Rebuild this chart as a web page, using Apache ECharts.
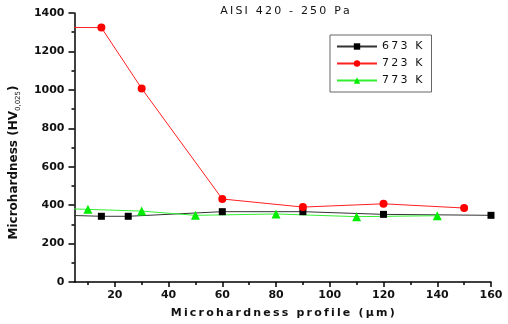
<!DOCTYPE html>
<html>
<head>
<meta charset="utf-8">
<script src="https://cdn.jsdelivr.net/npm/echarts@6/dist/echarts.min.js"></script>
<style>
  html, body { margin: 0; padding: 0; background: #fff; }
  #chart { width: 508px; height: 324px; }
</style>
</head>
<body>
<div id="chart"></div>
<script>
// depth along the profile (um) and hardness (HV 0,025)
const x673 = [0, 15, 25, 60, 90, 120, 160]
const y673 = [348, 342, 342, 366, 366, 352, 347]
const x723 = [0, 15, 30, 60, 90, 120, 150]
const y723 = [1325, 1324, 1007, 432, 390, 407, 385]
const x773 = [0, 10, 30, 50, 80, 110, 140]
const y773 = [382, 378, 369, 347, 354, 340, 345]
const xTicks = [20, 40, 60, 80, 100, 120, 140, 160]
const xMinor = [10, 30, 50, 70, 90, 110, 130, 150]

const FONT = 'DejaVu Sans'

// the original uses wide letter spacing; emulate it with thin spaces
function spaced(s) {
  return s.split('').join('\u2009')
}

function pairs(xs, ys) {
  return xs.map((x, i) => [x, ys[i]])
}

const chart = echarts.init(document.getElementById('chart'))
chart.setOption({
  animation: false,
  backgroundColor: '#fff',
  title: {
    text: spaced('AISI 420 - 250 Pa'),
    left: 280,
    top: 1,
    textAlign: 'center',
    textStyle: { fontFamily: FONT, fontSize: 11, fontWeight: 'normal', color: '#111' }
  },
  legend: {
    orient: 'vertical',
    left: 330,
    top: 35,
    padding: [6, 9, 6, 6],
    itemGap: 6,
    itemWidth: 40,
    itemHeight: 8,
    borderColor: '#666',
    borderWidth: 1,
    textStyle: { fontFamily: FONT, fontSize: 11, color: '#111' },
    formatter: name => spaced(name),
    data: ['673 K', '723 K', '773 K']
  },
  grid: { left: 73, right: 17, top: 13, bottom: 42 },
  xAxis: [
    {
      type: 'value',
      min: 5,
      max: 160,
      name: spaced('Microhardness profile (\u03bcm)'),
      nameLocation: 'middle',
      nameGap: 26,
      nameTextStyle: { fontFamily: FONT, fontSize: 11, fontWeight: 'bold', color: '#111' },
      axisLine: { lineStyle: { color: '#000', width: 1.5 } },
      axisTick: { customValues: xTicks, length: 5, lineStyle: { color: '#000', width: 1.5 } },
      axisLabel: { customValues: xTicks, fontFamily: FONT, fontSize: 11, fontWeight: 'bold', color: '#111', margin: 8 },
      splitLine: { show: false }
    },
    {
      type: 'value',
      min: 5,
      max: 160,
      position: 'bottom',
      axisLine: { show: false },
      axisTick: { customValues: xMinor, length: 3, lineStyle: { color: '#000', width: 1.5 } },
      axisLabel: { show: false },
      splitLine: { show: false }
    }
  ],
  yAxis: {
    type: 'value',
    min: 0,
    max: 1400,
    interval: 200,
    name: '{a|Microhardness (HV}{s|0,025}{a|)}',
    nameLocation: 'middle',
    nameGap: 53,
    nameRotate: 90,
    nameTextStyle: {
      padding: [0, 30, 0, 0],
      rich: {
        a: { fontFamily: FONT, fontSize: 12, fontWeight: 'bold', color: '#111' },
        s: { fontFamily: FONT, fontSize: 7, color: '#111', verticalAlign: 'bottom', padding: [8, 0, 0, 0] }
      }
    },
    axisLine: { show: true, lineStyle: { color: '#000', width: 1.5 } },
    axisTick: { show: true, length: 6, lineStyle: { color: '#000', width: 1.5 } },
    minorTick: { show: true, splitNumber: 2, length: 3, lineStyle: { color: '#000', width: 1.5 } },
    axisLabel: {
      formatter: v => String(v),
      fontFamily: FONT, fontSize: 11, fontWeight: 'bold', color: '#111', margin: 10
    },
    splitLine: { show: false }
  },
  series: [
    {
      name: '673 K',
      type: 'line',
      data: pairs(x673, y673),
      clip: true,
      symbol: 'rect',
      symbolSize: 7,
      itemStyle: { color: '#000' },
      lineStyle: { color: '#333', width: 1 }
    },
    {
      name: '723 K',
      type: 'line',
      data: pairs(x723, y723),
      clip: true,
      symbol: 'circle',
      symbolSize: 8,
      itemStyle: { color: '#ff0000' },
      lineStyle: { color: '#ff2020', width: 1 }
    },
    {
      name: '773 K',
      type: 'line',
      data: pairs(x773, y773),
      clip: true,
      symbol: 'triangle',
      symbolSize: 9,
      itemStyle: { color: '#00ee00' },
      lineStyle: { color: '#33ee33', width: 1 }
    }
  ]
})
</script>
</body>
</html>
